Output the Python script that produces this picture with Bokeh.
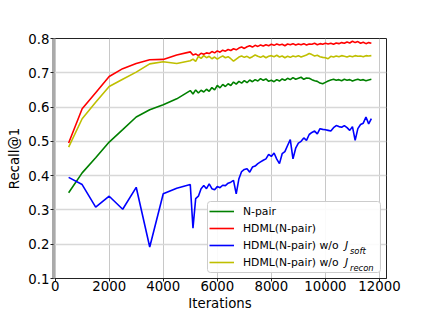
from bokeh.plotting import figure
from bokeh.models import (Range1d, FixedTicker, PrintfTickFormatter, Legend,
                          LegendItem, Label, BoxAnnotation, ColumnDataSource)
from bokeh.embed import file_html
from bokeh.resources import INLINE
from bokeh.core.properties import value

# ---------------- data ----------------
iterations = [
    500, 1000, 1500, 2000, 2500, 3000, 3500, 4000, 4500, 5000,
    5100, 5200, 5300, 5400, 5500, 5600, 5700, 5800, 5900, 6000,
    6100, 6200, 6300, 6400, 6500, 6600, 6700, 6800, 6900, 7000,
    7100, 7200, 7300, 7400, 7500, 7600, 7700, 7800, 7900, 8000,
    8100, 8200, 8300, 8400, 8500, 8600, 8700, 8800, 8900, 9000,
    9100, 9200, 9300, 9400, 9500, 9600, 9700, 9800, 9900, 10000,
    10100, 10200, 10300, 10400, 10500, 10600, 10700, 10800, 10900, 11000,
    11100, 11200, 11300, 11400, 11500, 11600, 11700,
]

npair = [
    0.350, 0.408, 0.452, 0.498, 0.534, 0.571, 0.592, 0.607, 0.624, 0.648,
    0.638, 0.650, 0.641, 0.649, 0.644, 0.652, 0.646, 0.657, 0.650, 0.663,
    0.656, 0.666, 0.660, 0.668, 0.663, 0.673, 0.667, 0.675, 0.670, 0.677,
    0.671, 0.679, 0.674, 0.680, 0.676, 0.683, 0.678, 0.682, 0.675, 0.678,
    0.674, 0.680, 0.676, 0.682, 0.678, 0.684, 0.680, 0.686, 0.681, 0.684,
    0.687, 0.681, 0.685, 0.684, 0.680, 0.677, 0.675, 0.670, 0.668, 0.672,
    0.676, 0.679, 0.681, 0.678, 0.680, 0.677, 0.681, 0.678, 0.680, 0.676,
    0.679, 0.681, 0.678, 0.680, 0.677, 0.679, 0.681,
]

hdml = [
    0.495, 0.595, 0.642, 0.689, 0.712, 0.727, 0.738, 0.739, 0.752, 0.761,
    0.752, 0.755, 0.750, 0.757, 0.754, 0.758, 0.756, 0.762, 0.758, 0.764,
    0.760, 0.766, 0.763, 0.768, 0.765, 0.770, 0.767, 0.772, 0.775, 0.771,
    0.776, 0.779, 0.775, 0.780, 0.777, 0.781, 0.778, 0.782, 0.779, 0.783,
    0.780, 0.784, 0.781, 0.783, 0.779, 0.784, 0.782, 0.785, 0.781, 0.784,
    0.782, 0.785, 0.781, 0.784, 0.783, 0.786, 0.782, 0.785, 0.783, 0.786,
    0.784, 0.786, 0.783, 0.787, 0.785, 0.788, 0.786, 0.790, 0.787, 0.792,
    0.788, 0.791, 0.786, 0.789, 0.785, 0.788, 0.786,
]

hdml_wo_soft = [
    0.395, 0.374, 0.308, 0.340, 0.302, 0.366, 0.192, 0.347, 0.363, 0.374,
    0.247, 0.333, 0.340, 0.362, 0.371, 0.362, 0.376, 0.362, 0.359, 0.368,
    0.365, 0.372, 0.371, 0.378, 0.381, 0.386, 0.347, 0.391, 0.412, 0.418,
    0.420, 0.410, 0.425, 0.428, 0.435, 0.440, 0.445, 0.449, 0.462, 0.456,
    0.466, 0.448, 0.435, 0.464, 0.470, 0.488, 0.505, 0.449, 0.480, 0.495,
    0.500, 0.510, 0.503, 0.520, 0.526, 0.530, 0.522, 0.537, 0.535, 0.534,
    0.532, 0.530, 0.540, 0.546, 0.543, 0.541, 0.546, 0.540, 0.532, 0.543,
    0.503, 0.537, 0.549, 0.553, 0.571, 0.551, 0.566,
]

hdml_wo_recon = [
    0.483, 0.566, 0.614, 0.660, 0.681, 0.702, 0.726, 0.732, 0.727, 0.735,
    0.740, 0.733, 0.748, 0.742, 0.750, 0.744, 0.748, 0.741, 0.746, 0.740,
    0.745, 0.749, 0.744, 0.747, 0.741, 0.734, 0.740, 0.746, 0.749, 0.745,
    0.748, 0.743, 0.747, 0.752, 0.748, 0.745, 0.749, 0.744, 0.748, 0.750,
    0.747, 0.751, 0.746, 0.749, 0.744, 0.748, 0.745, 0.749, 0.747, 0.750,
    0.746, 0.749, 0.752, 0.756, 0.753, 0.749, 0.751, 0.747, 0.745, 0.744,
    0.741, 0.748, 0.746, 0.749, 0.747, 0.750, 0.748, 0.746, 0.749, 0.747,
    0.750, 0.748, 0.749, 0.747, 0.750, 0.749, 0.750,
]

x_ticks = [0, 2000, 4000, 6000, 8000, 10000, 12000]
y_ticks = [0.1, 0.2, 0.3, 0.4, 0.5, 0.6, 0.7, 0.8]
x_title = "Iterations"
y_title = "Recall@1"

series_keys = ["npair", "hdml", "hdml_wo_soft", "hdml_wo_recon"]
series_labels = ["N-pair", "HDML(N-pair)", "HDML(N-pair) w/o", "HDML(N-pair) w/o"]
series_colors = ["#008000", "#ff0000", "#0000ff", "#bfbf00"]
subscripts = [None, None, "soft", "recon"]

source = ColumnDataSource(data=dict(
    x=iterations, npair=npair, hdml=hdml,
    hdml_wo_soft=hdml_wo_soft, hdml_wo_recon=hdml_wo_recon,
))

FONT = "DejaVu Sans"
FRAME_W, FRAME_H = 333, 240

p = figure(
    frame_width=FRAME_W, frame_height=FRAME_H,
    output_backend="svg", toolbar_location=None,
    x_range=Range1d(-60, 12260), y_range=Range1d(0.1, 0.8),
    min_border_left=53, min_border_right=42,
    min_border_top=38, min_border_bottom=35,
)
p.background_fill_color = "white"
p.border_fill_color = "white"
p.outline_line_color = "#222222"
p.outline_line_width = 1

# axes
p.xaxis.ticker = FixedTicker(ticks=x_ticks)
p.yaxis.ticker = FixedTicker(ticks=y_ticks)
p.yaxis.formatter = PrintfTickFormatter(format="%.1f")
p.xaxis.axis_label = x_title
p.yaxis.axis_label = y_title
for ax in (p.xaxis[0], p.yaxis[0]):
    ax.major_label_text_font = FONT
    ax.major_label_text_font_size = "13.3px"
    ax.major_label_text_color = "#000000"
    ax.axis_label_text_font = FONT
    ax.axis_label_text_font_size = "13.3px"
    ax.axis_label_text_font_style = "normal"
    ax.axis_label_text_color = "#000000"
    ax.minor_tick_line_color = None
    ax.major_tick_in = 0
    ax.major_tick_out = 3
    ax.major_tick_line_color = "#222222"
p.xaxis.axis_line_color = "#222222"
p.yaxis.axis_line_color = "#aaaaaa"
p.yaxis.axis_line_width = 3
p.xaxis.major_label_standoff = -1
p.xaxis.axis_label_standoff = 2
p.yaxis.major_label_standoff = 1
p.yaxis.axis_label_standoff = 3

# grid
p.xgrid.ticker = FixedTicker(ticks=x_ticks)
p.ygrid.ticker = FixedTicker(ticks=y_ticks)
p.xgrid.grid_line_color = "#c8c8c8"
p.xgrid.grid_line_width = 1
p.ygrid.grid_line_color = "#d8d8d8"
p.ygrid.grid_line_width = 1.5

# white panel behind the legend (hides the grid lines there), framed in light grey
p.add_layout(BoxAnnotation(left=154, right=327, bottom=6, top=77,
                           left_units="screen", right_units="screen",
                           bottom_units="screen", top_units="screen",
                           fill_color="white", fill_alpha=0.9,
                           line_color="#cccccc", line_width=1, line_alpha=1,
                           border_radius=3, level="underlay",
                           editable=False))

# lines
items = []
for key, lab, col in zip(series_keys, series_labels, series_colors):
    r = p.line(x="x", y=key, source=source, line_color=col, line_width=1.6)
    items.append(LegendItem(label=value(lab), renderers=[r]))

legend = Legend(items=items, location="bottom_right")
legend.label_text_font = FONT
legend.label_text_font_size = "10.8px"
legend.label_text_color = "#000000"
legend.padding = 2
legend.spacing = 1
legend.glyph_height = 16
legend.label_height = 16
legend.glyph_width = 25
legend.label_standoff = 9
legend.label_width = 135
legend.margin = 6
legend.border_line_alpha = 0
legend.background_fill_alpha = 0
p.add_layout(legend)

# italic J with subscripts appended to the last two legend labels
row_mid = {2: 33.0, 3: 16.0}
for idx, sub in enumerate(subscripts):
    if sub is None:
        continue
    p.add_layout(Label(x=291.5, y=row_mid[idx], x_units="screen", y_units="screen",
                       text="J", text_font=FONT, text_font_size="10.8px",
                       text_font_style="italic", text_baseline="middle",
                       text_color="#000000", level="overlay"))
    p.add_layout(Label(x=296.5, y=row_mid[idx] - 5, x_units="screen", y_units="screen",
                       text=sub, text_font=FONT, text_font_size="8.4px",
                       text_font_style="italic", text_baseline="alphabetic",
                       text_color="#000000", level="overlay"))

open("out.html", "w").write(file_html(p, INLINE))
